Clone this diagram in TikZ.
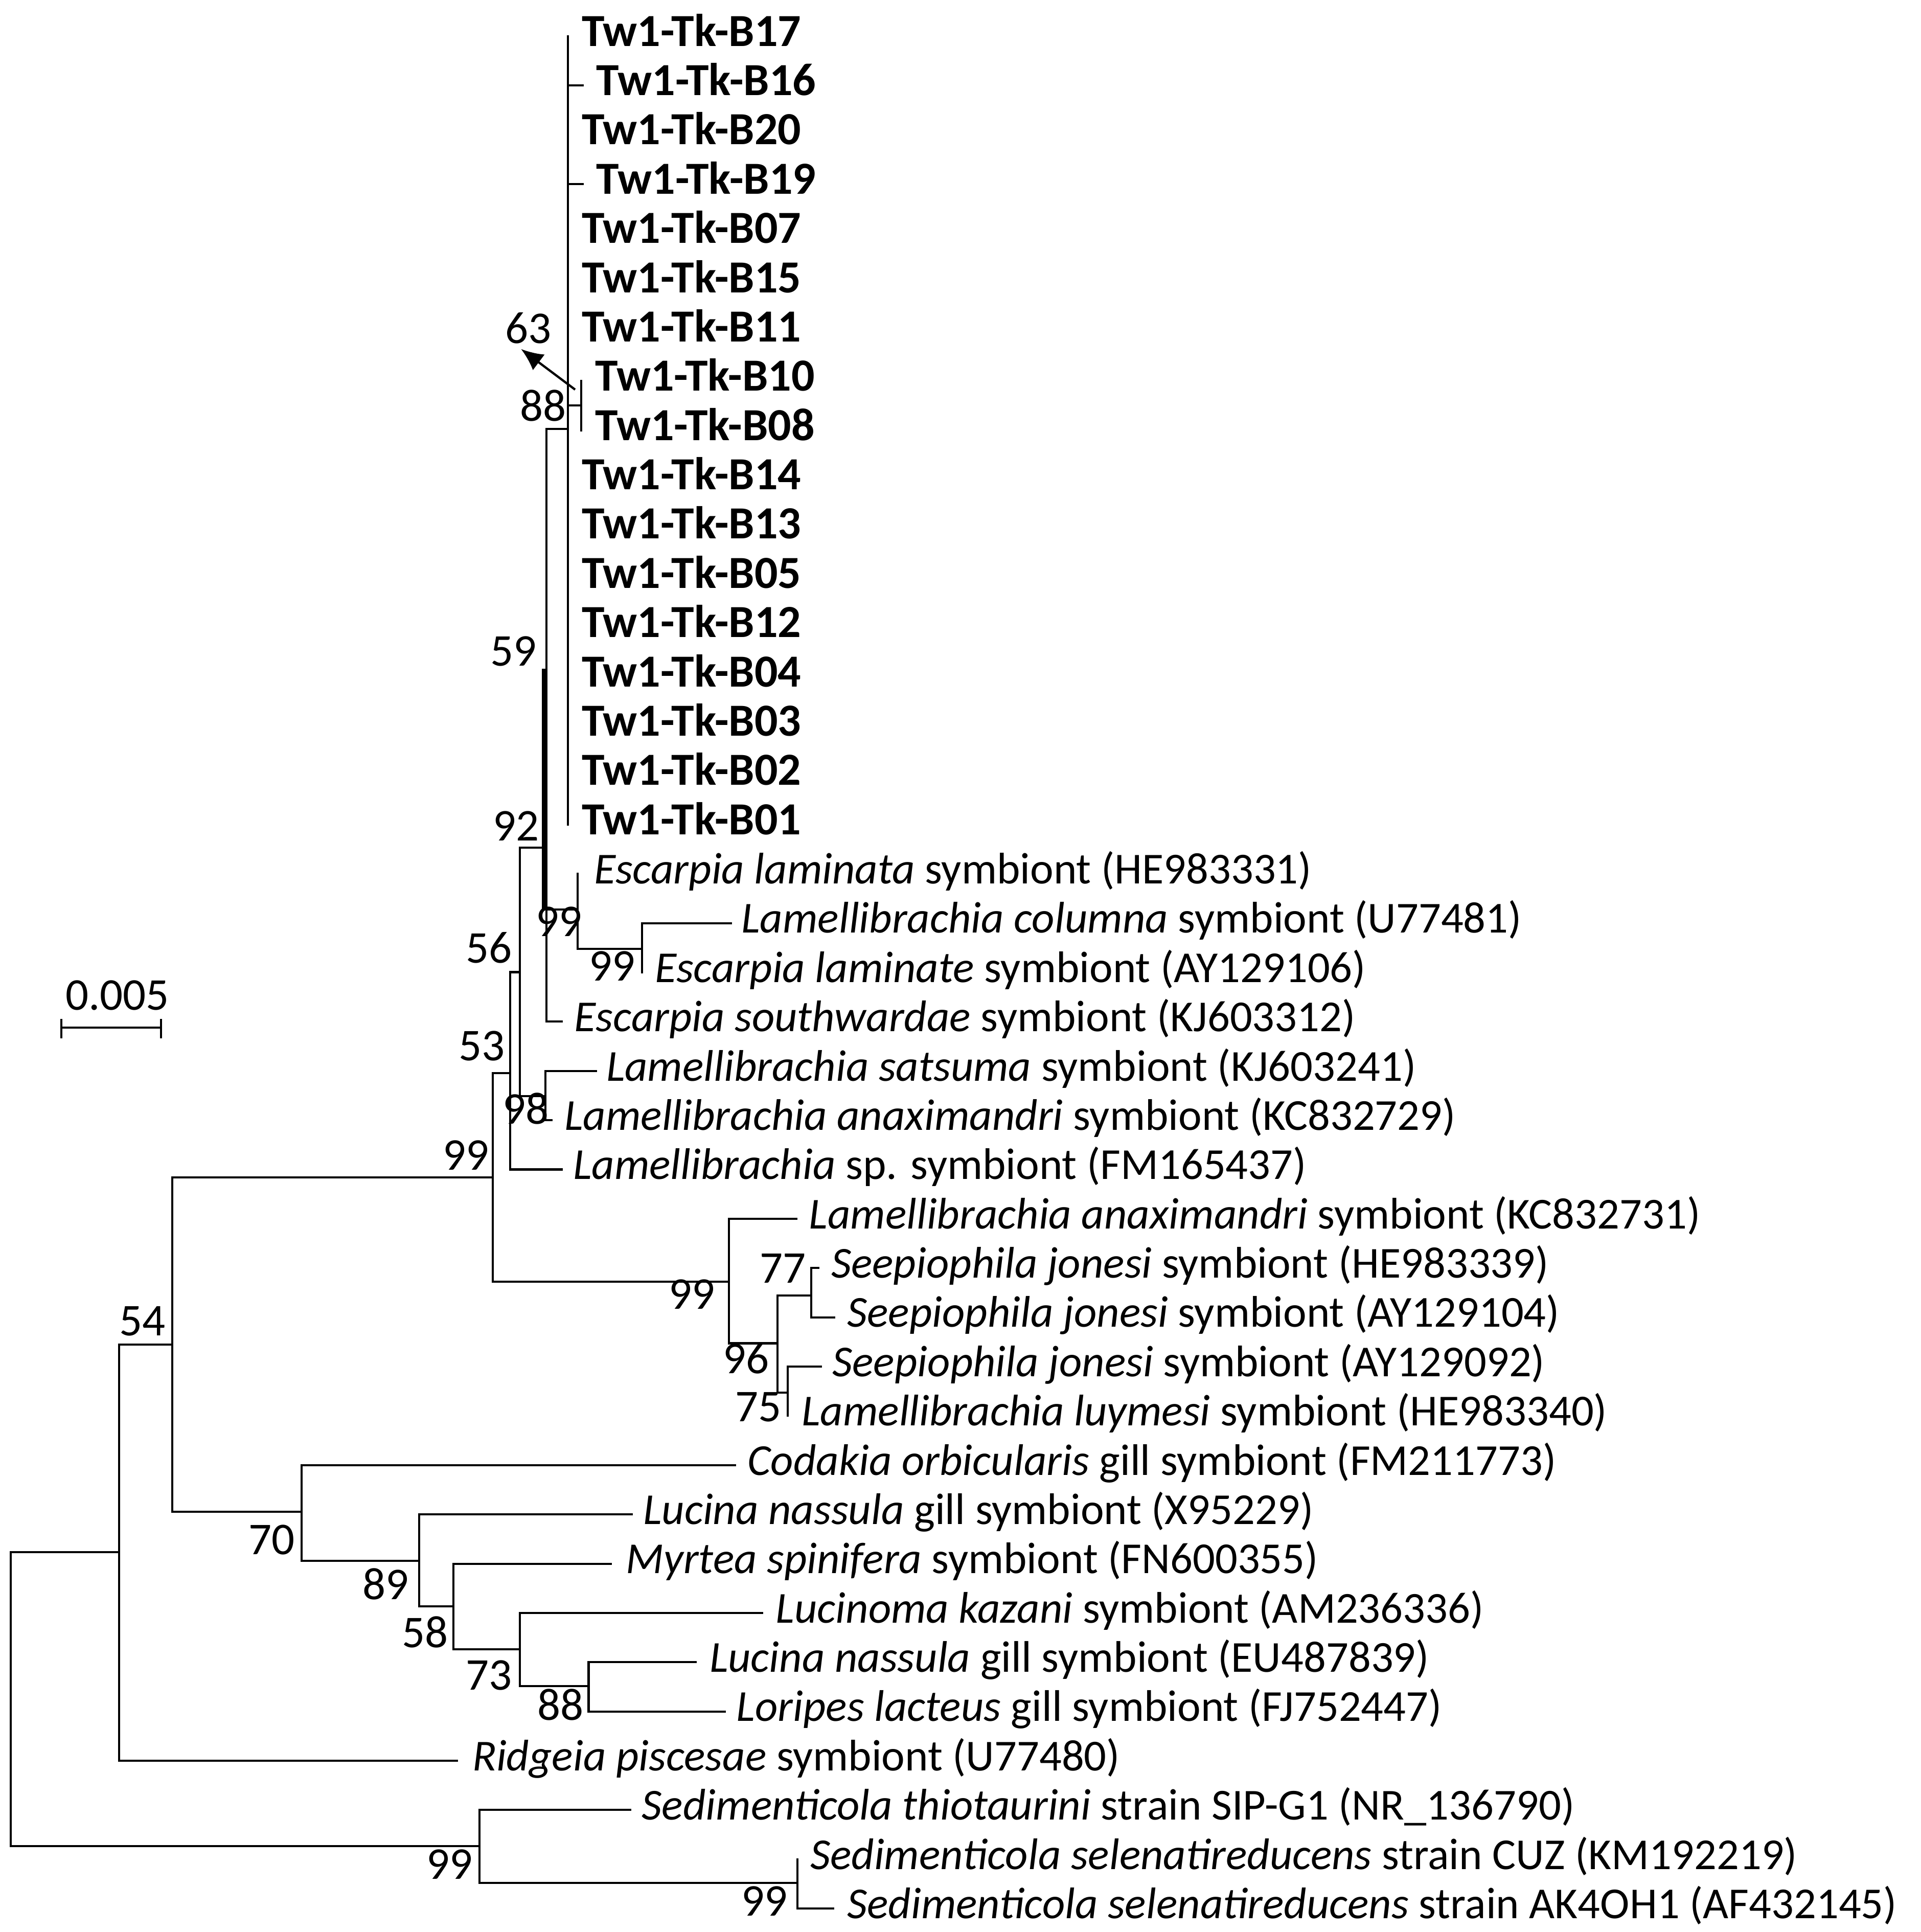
\documentclass[tikz,border=0pt]{standalone}
\usepackage{fontspec}
\setmainfont{Carlito}
\usetikzlibrary{arrows.meta}
\def\R#1{29.5+40.09*#1}
\tikzset{
  br/.style={line width=0.85pt, line cap=rect},
  lf/.style={anchor=base west, inner sep=0pt, font=\fontsize{18}{20}\selectfont},
  tw/.style={lf, font=\fontsize{18.7}{20}\selectfont\bfseries},
  bs/.style={inner sep=0pt, font=\fontsize{18.5}{20}\selectfont},
}
\begin{document}
\begin{tikzpicture}[x=0.5pt,y=-0.5pt]
\useasboundingbox (0,0) rectangle (1563,1572);
% internal node coordinates
\coordinate (root) at (8.6,1263);
\coordinate (n54) at (97,1263);
\coordinate (n140) at (140,1094);
\coordinate (n401) at (401,958);
\coordinate (n415) at (415,873);
\coordinate (n423) at (423,791);
\coordinate (n444) at (444.5,689.6);
\coordinate (n444b) at (444,892);
\coordinate (n462) at (462,349);
\coordinate (n88) at (473,330);
\coordinate (n470) at (470,740);
\coordinate (n522) at (522.5,772);
\coordinate (n593) at (593,1043);
\coordinate (n632) at (632.6,1093);
\coordinate (n660) at (660,1054);
\coordinate (n641) at (641,1133);
\coordinate (n245) at (245.5,1230);
\coordinate (n341) at (341,1270);
\coordinate (n369) at (369,1307);
\coordinate (n423b) at (423,1342);
\coordinate (n479) at (479,1372);
\coordinate (n390) at (390,1502);
\coordinate (n649) at (649,1532);
% leaf tips
\foreach \i/\x in {0/462,1/474,2/462,3/474,4/462,5/462,6/462,9/462,10/462,11/462,12/462,13/462,14/462,15/462,16/462}
  \coordinate (t\i) at (\x,{\R{\i}});
\coordinate (t7) at (473,{\R{7}});
\coordinate (t8) at (473,{\R{8}});
\coordinate (t17) at (470,{\R{17}});
\coordinate (t18) at (595,{\R{18}});
\coordinate (t19) at (522.5,{\R{19}});
\coordinate (t20) at (457,{\R{20}});
\coordinate (t21) at (485,{\R{21}});
\coordinate (t22) at (449,{\R{22}});
\coordinate (t23) at (457,{\R{23}});
\coordinate (t24) at (648,{\R{24}});
\coordinate (t25) at (666,{\R{25}});
\coordinate (t26) at (679,{\R{26}});
\coordinate (t27) at (668,{\R{27}});
\coordinate (t28) at (641,{\R{28}});
\coordinate (t29) at (598,{\R{29}});
\coordinate (t30) at (514,{\R{30}});
\coordinate (t31) at (497,{\R{31}});
\coordinate (t32) at (620,{\R{32}});
\coordinate (t33) at (566,{\R{33}});
\coordinate (t34) at (590,{\R{34}});
\coordinate (t35) at (372,{\R{35}});
\coordinate (t36) at (513,{\R{36}});
\coordinate (t37) at (649,{\R{37}});
\coordinate (t38) at (678,{\R{38}});
% branches
\draw[br] (root) -- (n54);
\draw[br] (root) |- (n390);
\draw[br] (n54) |- (n140);
\draw[br] (n54) |- (t35);
\draw[br] (n140) |- (n401);
\draw[br] (n140) |- (n245);
\draw[br] (n401) |- (n415);
\draw[br] (n401) |- (n593);
\draw[br] (n415) |- (n423);
\draw[br] (n415) |- (t23);
\draw[br] (n423) |- (n444);
\draw[br] (n423) |- (n444b);
\draw[br] (n444b) |- (t21);
\draw[br] (n444b) |- (t22);
\draw[br] (n444) |- (n462);
\draw[br] (n444) |- (n470);
\draw[br] (n444) |- (t20);
\draw[line width=1.7pt] (442.8,544) -- (442.8,740);
\draw[br] (n462) |- (t0);
\draw[br] (n462) |- (t16);
\draw[br] (n462) |- (t1);
\draw[br] (n462) |- (t3);
\draw[br] (n462 |- n88) -- (n88);
\draw[br] (n88) |- (t7);
\draw[br] (n88) |- (t8);
\draw[br] (n470) |- (t17);
\draw[br] (n470) |- (n522);
\draw[br] (n522) |- (t18);
\draw[br] (n522) |- (t19);
\draw[br] (n593) |- (t24);
\draw[br] (n593) |- (n632);
\draw[br] (n632) |- (n660);
\draw[br] (n632) |- (n641);
\draw[br] (n660) |- (t25);
\draw[br] (n660) |- (t26);
\draw[br] (n641) |- (t27);
\draw[br] (n641) |- (t28);
\draw[br] (n245) |- (t29);
\draw[br] (n245) |- (n341);
\draw[br] (n341) |- (t30);
\draw[br] (n341) |- (n369);
\draw[br] (n369) |- (t31);
\draw[br] (n369) |- (n423b);
\draw[br] (n423b) |- (t32);
\draw[br] (n423b) |- (n479);
\draw[br] (n479) |- (t33);
\draw[br] (n479) |- (t34);
\draw[br] (n390) |- (t36);
\draw[br] (n390) |- (n649);
\draw[br] (n649) |- (t37);
\draw[br] (n649) |- (t38);
% arrow
\coordinate (a1) at (468,317);
\coordinate (a2) at (424,284);
\draw[line width=0.9pt,-{Latex[length=9pt,width=8pt]}] (a1) -- (a2);
% leaf labels
\foreach \i/\lab in {0/Tw1-Tk-B17,1/Tw1-Tk-B16,2/Tw1-Tk-B20,3/Tw1-Tk-B19,4/Tw1-Tk-B07,5/Tw1-Tk-B15,6/Tw1-Tk-B11,7/Tw1-Tk-B10,8/Tw1-Tk-B08,9/Tw1-Tk-B14,10/Tw1-Tk-B13,11/Tw1-Tk-B05,12/Tw1-Tk-B12,13/Tw1-Tk-B04,14/Tw1-Tk-B03,15/Tw1-Tk-B02,16/Tw1-Tk-B01}
  \node[tw] (L\i) at ([xshift=5.5pt,yshift=-4pt]t\i) {\lab};
\node[lf] (L17) at ([xshift=6.5pt,yshift=-4pt]t17) {\textit{Escarpia laminata} symbiont (HE983331)};
\node[lf] (L18) at ([xshift=4pt,yshift=-4pt]t18) {\textit{Lamellibrachia columna} symbiont (U77481)};
\node[lf] (L19) at ([xshift=5pt,yshift=-4pt]t19) {\textit{Escarpia laminate} symbiont (AY129106)};
\node[lf] (L20) at ([xshift=5pt,yshift=-4pt]t20) {\textit{Escarpia southwardae} symbiont (KJ603312)};
\node[lf] (L21) at ([xshift=4pt,yshift=-4pt]t21) {\textit{Lamellibrachia satsuma} symbiont (KJ603241)};
\node[lf] (L22) at ([xshift=5pt,yshift=-4pt]t22) {\textit{Lamellibrachia anaximandri} symbiont (KC832729)};
\node[lf] (L23) at ([xshift=4.5pt,yshift=-4pt]t23) {\textit{Lamellibrachia} sp. symbiont (FM165437)};
\node[lf] (L24) at ([xshift=5pt,yshift=-4pt]t24) {\textit{Lamellibrachia anaximandri} symbiont (KC832731)};
\node[lf] (L25) at ([xshift=5pt,yshift=-4pt]t25) {\textit{Seepiophila jonesi} symbiont (HE983339)};
\node[lf] (L26) at ([xshift=5pt,yshift=-4pt]t26) {\textit{Seepiophila jonesi} symbiont (AY129104)};
\node[lf] (L27) at ([xshift=4.5pt,yshift=-4pt]t27) {\textit{Seepiophila jonesi} symbiont (AY129092)};
\node[lf] (L28) at ([xshift=5.5pt,yshift=-4pt]t28) {\textit{Lamellibrachia luymesi} symbiont (HE983340)};
\node[lf] (L29) at ([xshift=5pt,yshift=-4pt]t29) {\textit{Codakia orbicularis} gill symbiont (FM211773)};
\node[lf] (L30) at ([xshift=4.5pt,yshift=-4pt]t30) {\textit{Lucina nassula} gill symbiont (X95229)};
\node[lf] (L31) at ([xshift=6pt,yshift=-4pt]t31) {\textit{Myrtea spinifera} symbiont (FN600355)};
\node[lf] (L32) at ([xshift=5.5pt,yshift=-4pt]t32) {\textit{Lucinoma kazani} symbiont (AM236336)};
\node[lf] (L33) at ([xshift=5.5pt,yshift=-4pt]t33) {\textit{Lucina nassula} gill symbiont (EU487839)};
\node[lf] (L34) at ([xshift=4.5pt,yshift=-4pt]t34) {\textit{Loripes lacteus} gill symbiont (FJ752447)};
\node[lf] (L35) at ([xshift=6pt,yshift=-4pt]t35) {\textit{Ridgeia piscesae} symbiont (U77480)};
\node[lf] (L36) at ([xshift=4.5pt,yshift=-4pt]t36) {\textit{Sedimenticola thiotaurini} strain SIP-G1 (NR\_136790)};
\node[lf] (L37) at ([xshift=5pt,yshift=-4pt]t37) {\textit{Sedimenticola selenatireducens} strain CUZ (KM192219)};
\node[lf] (L38) at ([xshift=5.5pt,yshift=-4pt]t38) {\textit{Sedimenticola selenatireducens} strain AK4OH1 (AF432145)};
% bootstrap values
\node[bs] (b63) at (430,267) {63};
\node[bs] (b88a) at (442,330) {88};
\node[bs] (b59) at (418,530) {59};
\node[bs] (b92) at (420,672) {92};
\node[bs] (b99a) at (455,750) {99};
\node[bs] (b99b) at (498,786) {99};
\node[bs] (b56) at (398,771) {56};
\node[bs] (b53) at (392,851) {53};
\node[bs] (b98) at (428,902) {98};
\node[bs] (b99c) at (379,940) {99};
\node[bs] (b99d) at (563,1053) {99};
\node[bs] (b77) at (637,1032) {77};
\node[bs] (b96) at (607,1105) {96};
\node[bs] (b75) at (617,1145) {75};
\node[bs] (b54) at (116,1075) {54};
\node[bs] (b70) at (221,1253) {70};
\node[bs] (b89) at (314,1289) {89};
\node[bs] (b58) at (346,1328) {58};
\node[bs] (b73) at (398,1363) {73};
\node[bs] (b88b) at (456,1387) {88};
\node[bs] (b99e) at (366,1517) {99};
\node[bs] (b99f) at (622,1547) {99};
% scale bar
\coordinate (s1) at (50,836);
\coordinate (s2) at (131,836);
\draw[br] (s1) -- (s2);
\draw[br] (50,830) -- (50,844);
\draw[br] (131,830) -- (131,844);
\node[bs] (sc) at (95.5,810) {0.005};
\end{tikzpicture}
\end{document}
